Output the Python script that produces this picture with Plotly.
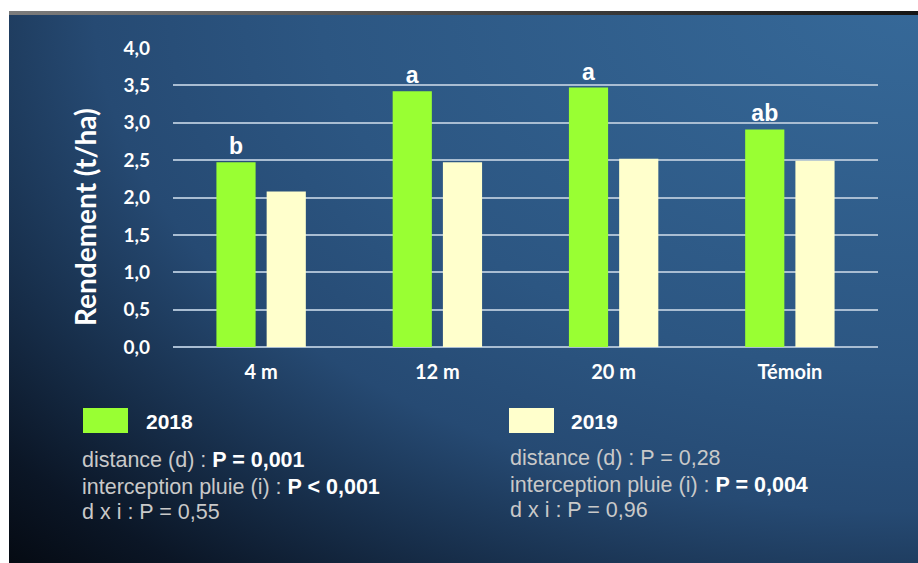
import base64
import plotly.graph_objects as go

# Rendement par distance, deux années
categories = ["4 m", "12 m", "20 m", "Témoin"]
yield_2018 = [2.47, 3.42, 3.47, 2.91]
yield_2019 = [2.08, 2.47, 2.52, 2.49]
letters_2018 = ["b", "a", "a", "ab"]
y_ticks = [0, 0.5, 1, 1.5, 2, 2.5, 3, 3.5, 4]

stats_2018 = [
    ("distance (d) : ", "P = 0,001"),
    ("interception pluie (i) : ", "P < 0,001"),
    ("d x i : P = 0,55", ""),
]
stats_2019 = [
    ("distance (d) : P = 0,28", ""),
    ("interception pluie (i) : ", "P = 0,004"),
    ("d x i : P = 0,96", ""),
]

W, H = 918, 563
L, R, T, B = 173, 40, 48, 216
PW, PH = W - L - R, H - T - B

GREEN = "#99ff33"
CREAM = "#ffffcc"
GRID = "#a9bdd2"
SOFT = "#c9c9c9"


def px(x):
    return (x - L) / PW


def py(y):
    return 1 - (y - T) / PH


# background: white frame, grey strip on top, dark-blue gradient panel
svg = f"""<svg xmlns='http://www.w3.org/2000/svg' width='{W}' height='{H}' viewBox='0 0 {W} {H}'>
<defs>
<radialGradient id='bg' cx='{W}' cy='0' r='1330' gradientUnits='userSpaceOnUse'
  gradientTransform='translate({W} 0) scale(1 0.62) translate(-{W} 0)'>
<stop offset='0' stop-color='#366999'/>
<stop offset='0.45' stop-color='#2c5682'/>
<stop offset='0.62' stop-color='#264a73'/>
<stop offset='0.76' stop-color='#172e4a'/>
<stop offset='0.88' stop-color='#0b1626'/>
<stop offset='1' stop-color='#03060b'/>
</radialGradient>
<linearGradient id='bar' x1='0' y1='0' x2='1' y2='0'>
<stop offset='0' stop-color='#7c7c7c'/>
<stop offset='1' stop-color='#151515'/>
</linearGradient>
</defs>
<rect x='0' y='0' width='{W}' height='{H}' fill='#ffffff'/>
<rect x='9' y='15' width='{W - 9}' height='{H - 15}' fill='url(#bg)'/>
<rect x='9' y='11' width='{W - 9}' height='4' fill='url(#bar)'/>
</svg>"""
bg_src = "data:image/svg+xml;base64," + base64.b64encode(svg.encode()).decode()

fig = go.Figure()
fig.add_trace(go.Bar(
    x=categories, y=yield_2018, name="2018",
    marker=dict(color=GREEN, line=dict(width=0)),
    text=letters_2018, textposition="outside", cliponaxis=False,
    textfont=dict(family="Liberation Sans, Arial", size=23, color="white", weight="bold"),
))
fig.add_trace(go.Bar(
    x=categories, y=yield_2019, name="2019",
    marker=dict(color=CREAM, line=dict(width=0)),
))

annotations = [
    dict(text="<b>Rendement (t/ha)</b>", textangle=-90, xref="paper", yref="paper",
         x=px(85), y=py(217), xanchor="center", yanchor="middle", showarrow=False,
         font=dict(family="Lato", size=28, color="white")),
]
shapes = []

legend_blocks = [
    (83, 146, 80, "2018", GREEN, stats_2018, [460, 487, 512]),
    (509, 571, 508, "2019", CREAM, stats_2019, [458, 485, 510]),
]
for sx, tx, lx, label, col, stats, ys in legend_blocks:
    shapes.append(dict(type="rect", xref="paper", yref="paper",
                       x0=px(sx), x1=px(sx + 45), y0=py(433), y1=py(408),
                       fillcolor=col, line=dict(width=0)))
    annotations.append(dict(text=f"<b>{label}</b>", xref="paper", yref="paper",
                            x=px(tx - 2), y=py(421), xanchor="left", yanchor="middle",
                            showarrow=False,
                            font=dict(family="Liberation Sans, Arial", size=21, color="white")))
    for (plain, strong), yy in zip(stats, ys):
        txt = f"<span style='color:{SOFT}'>{plain}</span>"
        if strong:
            txt += f"<b><span style='color:white'>{strong}</span></b>"
        annotations.append(dict(text=txt, xref="paper", yref="paper",
                                x=px(lx), y=py(yy), xanchor="left", yanchor="middle",
                                showarrow=False,
                                font=dict(family="Liberation Sans, Arial", size=21.5, color=SOFT)))

fig.update_layout(
    width=W, height=H,
    margin=dict(l=L, r=R, t=T, b=B, pad=0),
    paper_bgcolor="white", plot_bgcolor="rgba(0,0,0,0)",
    separators=", ",
    barmode="group", bargap=0.43, bargroupgap=0.22,
    showlegend=False,
    images=[dict(source=bg_src, xref="paper", yref="paper",
                 x=px(0), y=py(0), sizex=W / PW, sizey=H / PH,
                 xanchor="left", yanchor="top", sizing="stretch", layer="below")],
    annotations=annotations, shapes=shapes,
    xaxis=dict(showgrid=False, zeroline=False, showline=False, ticks="",
               ticklabelstandoff=11,
               tickfont=dict(family="Lato", size=20, color="white", weight="bold")),
    yaxis=dict(range=[0, 4], tickvals=y_ticks, tickformat=".1f",
               showgrid=True, gridcolor=GRID, gridwidth=1.5,
               zeroline=True, zerolinecolor=GRID, zerolinewidth=1.5,
               showline=False, ticks="", ticklabelstandoff=22,
               tickfont=dict(family="Lato", size=19, color="white", weight="bold")),
)

fig.write_html("out.html")
